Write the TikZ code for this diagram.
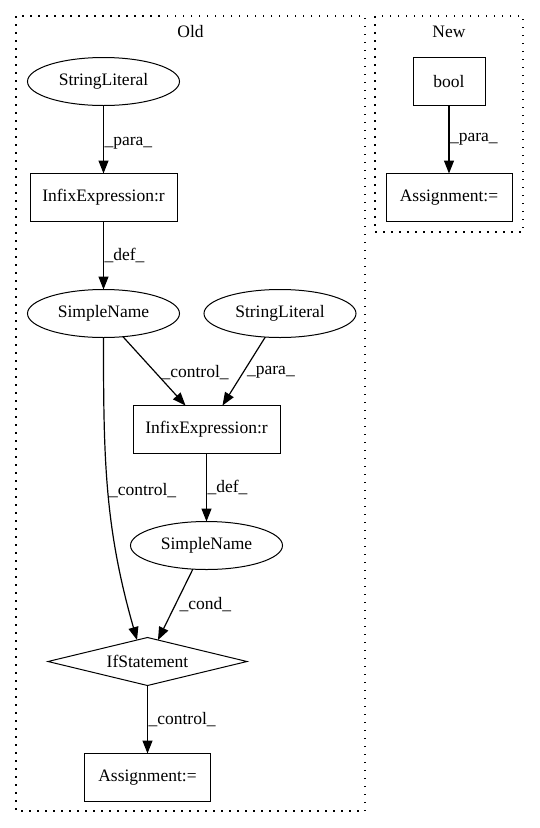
\documentclass[tikz,border=0pt]{standalone}
\usepackage{fontspec}
\setmainfont{Liberation Serif}
\usetikzlibrary{positioning, arrows.meta, shapes.geometric}

\begin{document}
\begin{tikzpicture}[
    x=1pt, y=-1pt,
    font=\fontsize{17.5}{21}\selectfont,
    % Node styles
    ast/.style={
        ellipse,
        draw,
        line width=1pt,
        minimum width=#1,
        minimum height=48pt,
        inner sep=0pt,
        outer sep=0pt
    },
    ast/.default=152pt,
    stmt/.style={
        rectangle,
        draw,
        line width=1pt,
        minimum width=#1,
        minimum height=48pt,
        inner sep=0pt,
        outer sep=0pt
    },
    stmt/.default=147pt,
    cond/.style={
        diamond,
        aspect=4,
        draw,
        line width=1pt,
        minimum width=199pt,
        minimum height=48pt,
        inner sep=0pt,
        outer sep=0pt
    },
    edge/.style={
        -{Triangle[length=13pt, width=10pt]},
        line width=1.2pt
    },
    elabel/.style={
        anchor=west,
        inner sep=0.5pt
    },
    cluster/.style={
        draw,
        line width=1.2pt,
        dash pattern=on 1.5pt off 6.5pt
    }
]

\useasboundingbox (0,0) rectangle (539,828);

% Define rank separation
\def\rsep{68pt}

% Clusters
\draw[cluster] (16,16) rectangle (365,811);
\node (oldtitle) at (190.5,32) {Old};
\draw[cluster] (375,16) rectangle (523,232);
\node (newtitle) at (449,32) {New};

% Old: first chain
\node[ast] (lit1) at (103.5,81.5) {StringLiteral};
\node[stmt, below=\rsep of lit1] (infix1) {InfixExpression:r};
\node[ast, below=\rsep of infix1] (name1) {SimpleName};

% Old: second chain
\node[ast] (lit2) at (280,313.5) {StringLiteral};
\node[stmt] (infix2) at (206.5,429.5) {InfixExpression:r};
\node[ast, below=\rsep of infix2] (name2) {SimpleName};

% Old: condition and assignment
\node[cond] (ifst) at (147.5,661.5) {IfStatement};
\node[stmt=126pt, below=\rsep of ifst] (assign1) {Assignment:=};

% New
\node[stmt=72pt] (boolnode) at (449,81.5) {bool};
\node[stmt=126pt, below=\rsep of boolnode] (assign2) {Assignment:=};

% Arrows
\draw[edge] (lit1) -- node[elabel, pos=0.55] {\_para\_} (infix1);
\draw[edge] (infix1) -- node[elabel, pos=0.5] {\_def\_} (name1);
\draw[edge] (name1.-50) -- node[elabel, pos=0.52, xshift=5pt] {\_control\_} ([xshift=-21pt]infix2.north);
\draw[edge] (lit2.-122) -- node[elabel, pos=0.52, xshift=3pt] {\_para\_} ([xshift=16pt]infix2.north);
\draw[edge] (infix2) -- node[elabel, pos=0.5] {\_def\_} (name2);
\draw[edge] (name1.south) to[out=-90, in=106] node[elabel, pos=0.5] {\_control\_} (ifst.116);
\draw[edge] (name2.-120) -- node[elabel, pos=0.5, xshift=3pt] {\_cond\_} (ifst.64);
\draw[edge] (ifst) -- node[elabel, pos=0.5] {\_control\_} (assign1);
\draw[edge] (boolnode) -- node[elabel, pos=0.5] {\_para\_} (assign2);

\end{tikzpicture}
\end{document}
